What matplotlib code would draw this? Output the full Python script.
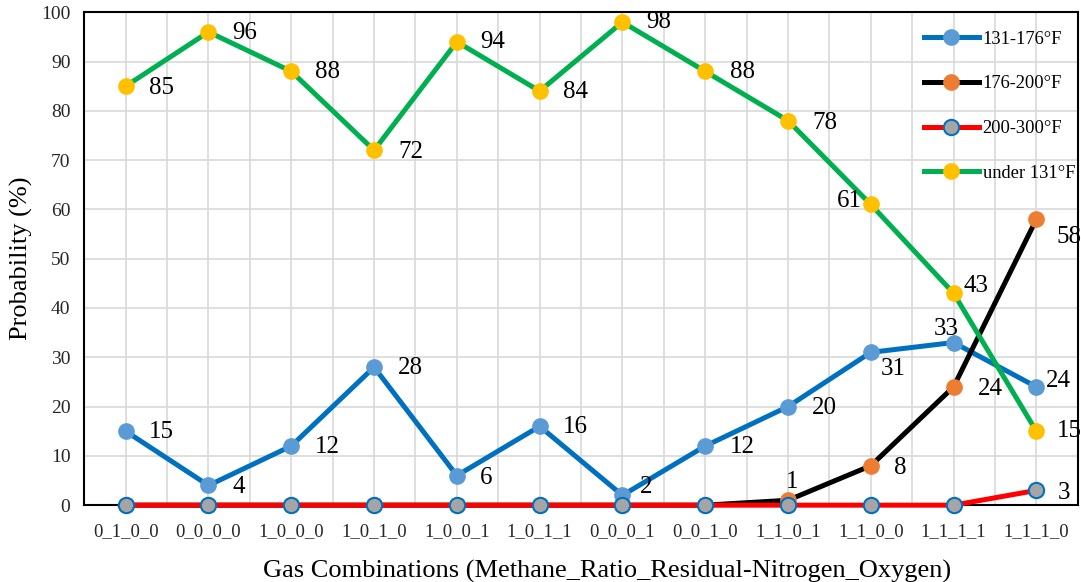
import matplotlib.pyplot as plt
import numpy as np

plt.rcParams['font.family'] = ['Liberation Serif', 'DejaVu Serif']

categories = ["0_1_0_0", "0_0_0_0", "1_0_0_0", "1_0_1_0", "1_0_0_1", "1_0_1_1",
              "0_0_0_1", "0_0_1_0", "1_1_0_1", "1_1_0_0", "1_1_1_1", "1_1_1_0"]
t131_176 = [15, 4, 12, 28, 6, 16, 2, 12, 20, 31, 33, 24]
t176_200 = [0, 0, 0, 0, 0, 0, 0, 0, 1, 8, 24, 58]
t200_300 = [0, 0, 0, 0, 0, 0, 0, 0, 0, 0, 0, 3]
under131 = [85, 96, 88, 72, 94, 84, 98, 88, 78, 61, 43, 15]

x = np.arange(len(categories))

fig = plt.figure(figsize=(10.81, 5.82), dpi=100)
ax = fig.add_axes([0.078, 0.132, 0.919, 0.847])

kw = dict(lw=3.6, marker="o", ms=11, clip_on=False)
ax.plot(x, t131_176, color="#0070C0", mfc="#5B9BD5", mec="#5B9BD5",
        label="131-176°F", zorder=3, **kw)
ax.plot(x, t176_200, color="black", mfc="#ED7D31", mec="#ED7D31",
        label="176-200°F", zorder=4, **kw)
ax.plot(x, t200_300, color="#FF0000", mfc="#A5A5A5", mec="#0070C0", mew=1.5,
        label="200-300°F", zorder=5, **kw)
ax.plot(x, under131, color="#00B050", mfc="#FFC000", mec="#FFC000",
        label="under 131°F", zorder=6, **kw)

# data labels: offsets in pixels (dx right, dy down), alignment
fs = 18
def lab(i, vals, dx, dy, ha="left"):
    ax.annotate(str(vals[i]), (x[i], vals[i]), xytext=(dx * 0.72, -dy * 0.72),
                textcoords="offset points", ha=ha, va="center", fontsize=fs,
                zorder=7)

g_off = [(23, 2), (24, 1), (24, 1), (24, 2), (23, 0), (23, 1),
         (24, 0), (25, 1), (24, 2)]
for i, (dx, dy) in enumerate(g_off):
    lab(i, under131, dx, dy)
lab(9, under131, -9, -3, "right")
lab(10, under131, 10, -7)
lab(11, under131, 20, 0)

b_off = [(23, 1), (24, 2), (24, 1), (24, 1), (23, 2), (23, 1),
         (17, -8), (25, 1), (24, 1), (10, 17)]
for i, (dx, dy) in enumerate(b_off):
    lab(i, t131_176, dx, dy)
lab(10, t131_176, -7, -14, "center")
lab(11, t131_176, 10, -6)

lab(8, t176_200, 4, -18, "center")
lab(9, t176_200, 23, 2)
lab(10, t176_200, 24, 2)
lab(11, t176_200, 20, 18)
lab(11, t200_300, 21, 3)

ax.set_xlim(-0.5, len(categories) - 0.5)
ax.set_ylim(0, 100)
ax.set_yticks(np.arange(0, 101, 10))
ax.set_xticks(x)
ax.set_xticklabels(categories)
ax.set_xticks(np.arange(-0.5, len(categories), 1), minor=True)
ax.tick_params(axis="both", which="both", length=0, labelcolor="#262626")
ax.tick_params(axis="x", labelsize=13.5, pad=13)
ax.tick_params(axis="y", labelsize=14, pad=10)
ax.grid(True, which="major", color="#D9D9D9", lw=1.2)
ax.grid(True, which="minor", axis="x", color="#D9D9D9", lw=1.2)
ax.set_axisbelow(True)
for s in ax.spines.values():
    s.set_color("black")
    s.set_linewidth(1.5)

ax.set_xlabel("Gas Combinations (Methane_Ratio_Residual-Nitrogen_Oxygen)", fontsize=19)
ax.xaxis.set_label_coords(0.526, -0.112)
ax.set_ylabel("Probability (%)", fontsize=19, labelpad=6)

ax.legend(loc="upper right", frameon=False, fontsize=13.3, handlelength=3.0,
          labelspacing=1.5, handletextpad=0.2, borderaxespad=0.6,
          bbox_to_anchor=(1.016, 1.0))

fig.savefig("out.png", dpi=100)
